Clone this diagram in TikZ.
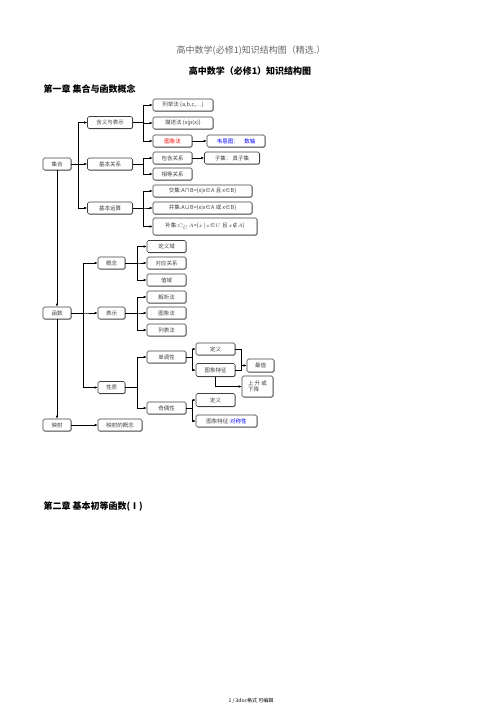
\documentclass[tikz,border=0pt]{standalone}
\usepackage{fontspec}
\setmainfont{Noto Sans CJK SC}
\newfontfamily\symfont{DejaVu Sans}
\usetikzlibrary{arrows.meta,shadows}
\tikzset{
  box/.style={draw=black!75, rounded corners=1.5pt, line width=0.6pt, fill=white,
    text=black!75, font=\fontsize{5.5}{6.5}\selectfont, inner sep=1pt,
    minimum height=12pt,
    drop shadow={shadow xshift=0.6pt, shadow yshift=-0.6pt, fill=black!55, opacity=1}},
  link/.style={line width=0.7pt, -{Latex[length=3pt,width=2.6pt]}},
  plain/.style={line width=0.7pt},
  heading/.style={font=\bfseries\fontsize{9}{10}\selectfont, anchor=west},
}
\begin{document}
\begin{tikzpicture}[x=1pt,y=-1pt]
  \useasboundingbox (0,0) rectangle (503,711);

  % Titles
  \node[text=black!60, font=\fontsize{9}{10}\selectfont] (title) at (251,51) {高中数学(必修1)知识结构图（精选.）};
  \node[font=\bfseries\fontsize{9}{10}\selectfont] (subtitle) at (250,71) {高中数学（必修1）知识结构图};
  \node[heading] (ch1) at (40,89) {第一章\ 集合与函数概念};

  % Sets
  \node[box, minimum width=28pt] (jihe) at (57,164) {集合};
  \node[box, minimum width=45pt] (hanyi) at (110,122.5) {含义与表示};
  \node[box, minimum width=45pt] (guanxi) at (110,164) {基本关系};
  \node[box, minimum width=45pt] (yunsuan) at (110,208) {基本运算};
  \node[box, minimum width=60pt] (liejv) at (183,105) {列举法\ \{a,b,c,…\}};
  \node[box, minimum width=60pt] (miaoshu) at (183,123) {描述法\ \{x|p(x)\}};
  \node[box, minimum width=39pt, text=red] (tuxiang) at (172.5,141) {图象法};
  \node[box, minimum width=58pt, text=blue] (weien) at (236,141) {韦恩图：\quad 数轴};
  \node[box, minimum width=39pt] (baohan) at (172.5,158) {包含关系};
  \node[box, minimum width=55pt] (ziji) at (232,158) {子集：\ 真子集};
  \node[box, minimum width=39pt] (xiangdeng) at (172.5,174) {相等关系};
  \node[box, minimum width=99pt] (jiao) at (202.5,191) {交集:A∩B=\{x|x∈A 且 x∈B\}};
  \node[box, minimum width=99pt] (bing) at (202.5,208) {并集:A∪B=\{x|x∈A 或 x∈B\}};
  \node[box, minimum width=104pt, minimum height=17pt] (bu) at (205,226.5) {补集:$C_UA$=\{$x$\,|\,$x$∈$U$ 且 $x${\symfont ∉}$A$\}};

  \draw[link] (jihe.east) -- (guanxi.west);
  \foreach \n in {hanyi,yunsuan}
    \draw[link] (jihe.east) -- +(7,0) |- (\n.west);
  \foreach \n in {liejv,miaoshu,tuxiang}
    \draw[link] (hanyi.east) -- +(11,0) |- (\n.west);
  \draw[link] (tuxiang) -- (weien);
  \foreach \n in {baohan,xiangdeng}
    \draw[link] (guanxi.east) -- +(11,0) |- (\n.west);
  \draw[link] (baohan) -- (ziji);
  \foreach \n in {jiao,bing,bu}
    \draw[link] (yunsuan.east) -- +(11,0) |- (\n.west);

  % Functions
  \node[box, minimum width=28pt] (hanshu) at (57,313) {函数};
  \node[box, minimum width=27pt] (gainian) at (111.5,263) {概念};
  \node[box, minimum width=27pt] (biaoshi) at (111.5,313) {表示};
  \node[box, minimum width=27pt] (xingzhi) at (111.5,387.5) {性质};
  \node[box, minimum width=39pt] (dingyiyu) at (166.5,246.5) {定义域};
  \node[box, minimum width=39pt] (duiying) at (166.5,263) {对应关系};
  \node[box, minimum width=39pt] (zhiyu) at (166.5,280) {值域};
  \node[box, minimum width=39pt] (jiexi) at (166.5,297) {解析法};
  \node[box, minimum width=39pt] (tuxiangfa) at (166.5,313) {图象法};
  \node[box, minimum width=39pt] (liebiao) at (166.5,330) {列表法};
  \node[box, minimum width=39pt] (dandiao) at (166.5,357) {单调性};
  \node[box, minimum width=39pt] (jiou) at (166.5,408) {奇偶性};
  \node[box, minimum width=39pt] (dingyiA) at (215.5,349) {定义};
  \node[box, minimum width=39pt, minimum height=13pt] (tezhengA) at (215.5,370) {图象特征};
  \node[box, minimum width=27pt, minimum height=13pt] (zuizhi) at (260.5,365.5) {最值};
  \node[box, minimum width=31pt, minimum height=21pt, align=left] (shangsheng) at (257.5,386.5) {上\ 升\ 或\\下降};
  \node[box, minimum width=39pt, minimum height=13pt] (dingyiB) at (215.5,400) {定义};
  \node[box, minimum width=61pt] (tezhengB) at (226.5,421) {图象特征:\textcolor{blue}{对称性}};
  \node[box, minimum width=28pt] (yingshe) at (57,425) {映射};
  \node[box, minimum width=44pt] (yinggai) at (120,425) {映射的概念};

  \draw[link] (jihe) -- (hanshu);
  \draw[link] (hanshu) -- (yingshe);
  \foreach \n in {gainian,biaoshi,xingzhi}
    \draw[link] (hanshu.east) -- +(12,0) |- (\n.west);
  \foreach \n in {dingyiyu,duiying,zhiyu}
    \draw[link] (gainian.east) -- +(12,0) |- (\n.west);
  \foreach \n in {jiexi,tuxiangfa,liebiao}
    \draw[link] (biaoshi.east) -- +(12,0) |- (\n.west);
  \foreach \n in {dandiao,jiou}
    \draw[link] (xingzhi.east) -- +(12,0) |- (\n.west);
  \foreach \n in {dingyiA,tezhengA}
    \draw[link] (dandiao.east) -- +(6,0) |- (\n.west);
  \foreach \n in {dingyiB,tezhengB}
    \draw[link] (jiou.east) -- +(6,0) |- (\n.west);
  \coordinate (hub) at ([xshift=-5pt]zuizhi.west);
  \draw[plain] (dingyiA.east) -| (hub);
  \draw[plain] (tezhengA.east) -| (hub);
  \draw[link] (hub) -- (zuizhi.west);
  \draw[link] (tezhengA.south) |- (shangsheng.west);
  \draw[link] (yingshe) -- (yinggai);

  % Chapter 2 and footer
  \node[heading] (ch2) at (40,507) {第二章\ 基本初等函数(Ⅰ)};
  \node[font=\fontsize{5}{6}\selectfont] (footer) at (251,701) {1 / 3doc格式 可编辑};
\end{tikzpicture}
\end{document}
